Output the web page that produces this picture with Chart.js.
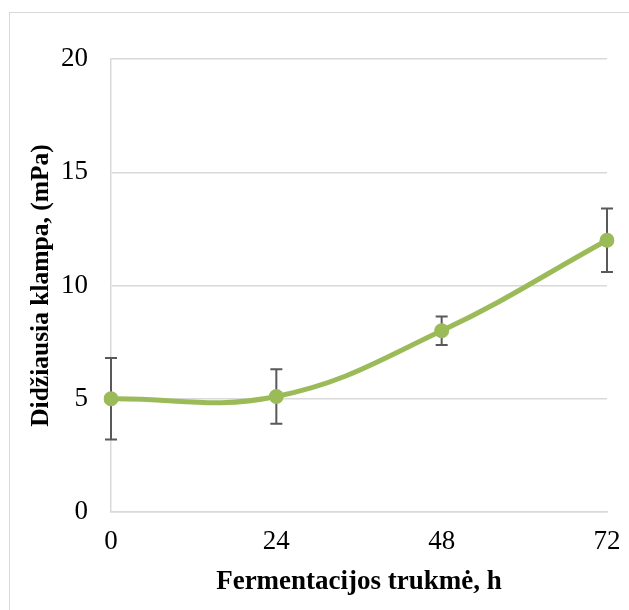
<!DOCTYPE html>
<html>
<head>
<meta charset="utf-8">
<script src="https://cdn.jsdelivr.net/npm/chart.js@4.4.0/dist/chart.umd.min.js"></script>
<style>
  html, body { margin: 0; padding: 0; background: #fff; }
  #wrap { position: relative; width: 629px; height: 610px; overflow: hidden; }
  #frame { position: absolute; left: 9px; top: 12px; width: 640px; height: 640px; border: 1px solid #d9d9d9; box-sizing: border-box; }
  canvas { position: absolute; left: 0; top: 0; }
</style>
</head>
<body>
<div id="wrap">
  <div id="frame"></div>
  <canvas id="c" width="629" height="610"></canvas>
</div>
<script>
const categories = ['0', '24', '48', '72'];
const values = [5.0, 5.1, 8.0, 12.0];
const errors = [1.8, 1.2, 0.63, 1.4];
const yTicks = [0, 5, 10, 15, 20];
const xTitle = 'Fermentacijos trukmė, h';
const yTitle = 'Didžiausia klampa, (mPa)';

const errorBars = {
  id: 'errorBars',
  beforeDatasetsDraw(chart) {
    const ctx = chart.ctx;
    const meta = chart.getDatasetMeta(0);
    const y = chart.scales.y;
    ctx.save();
    ctx.strokeStyle = '#595959';
    ctx.lineWidth = 2;
    meta.data.forEach((pt, i) => {
      const x = pt.x;
      const top = y.getPixelForValue(values[i] + errors[i]);
      const bot = y.getPixelForValue(values[i] - errors[i]);
      ctx.beginPath();
      ctx.moveTo(x, top); ctx.lineTo(x, bot);
      ctx.moveTo(x - 6, top); ctx.lineTo(x + 6, top);
      ctx.moveTo(x - 6, bot); ctx.lineTo(x + 6, bot);
      ctx.stroke();
    });
    ctx.restore();
  }
};

new Chart(document.getElementById('c'), {
  type: 'line',
  data: {
    labels: categories,
    datasets: [{
      data: values,
      borderColor: '#9BBB59',
      backgroundColor: '#9BBB59',
      borderWidth: 5,
      pointRadius: 7.5,
      pointHoverRadius: 7.5,
      pointBorderWidth: 0,
      tension: 0.4,
      fill: false
    }]
  },
  options: {
    responsive: false,
    animation: false,
    events: [],
    layout: { padding: { left: 0, right: 22, top: 59, bottom: 0 } },
    plugins: { legend: { display: false }, tooltip: { enabled: false } },
    scales: {
      x: {
        type: 'category',
        offset: false,
        grid: { display: false, drawTicks: false },
        border: { display: true, color: '#d9d9d9', width: 1.5 },
        ticks: { padding: 14, color: '#000', font: { family: 'Liberation Serif', size: 27 }, maxRotation: 0 },
        title: { display: true, text: xTitle, color: '#000', padding: { top: 0, bottom: 12 }, font: { family: 'Liberation Serif', size: 27, weight: 'bold' } },
        afterFit(scale) { scale.height = 98; scale.paddingLeft = 0; scale.paddingRight = 0; }
      },
      y: {
        min: 0, max: 20,
        afterBuildTicks(scale) { scale.ticks = yTicks.map(v => ({ value: v })); },
        grid: { color: '#d9d9d9', lineWidth: 1.5, drawTicks: false },
        border: { display: true, color: '#d9d9d9', width: 1.5 },
        ticks: { padding: 23, color: '#000', font: { family: 'Liberation Serif', size: 27 } },
        title: { display: true, text: yTitle, color: '#000', padding: { top: 26, bottom: 0 }, font: { family: 'Liberation Serif', size: 25.5, weight: 'bold' } },
        afterFit(scale) { scale.width = 111; scale.paddingTop = 0; scale.paddingBottom = 0; }
      }
    }
  },
  plugins: [errorBars]
});
</script>
</body>
</html>
